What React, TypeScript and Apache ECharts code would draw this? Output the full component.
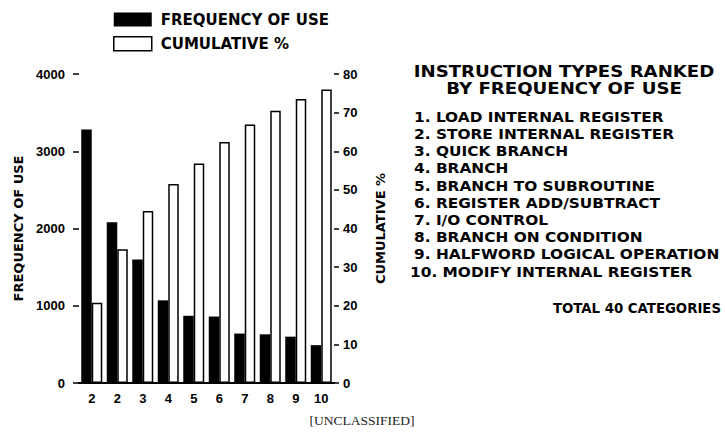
import React, { useEffect, useRef } from "react";
import * as echarts from "echarts";

const categories = ["2", "2", "3", "4", "5", "6", "7", "8", "9", "10"];
const frequency = [3280, 2080, 1600, 1070, 870, 860, 640, 630, 600, 490];
const cumulative = [20.8, 34.6, 44.5, 51.5, 56.8, 62.4, 66.9, 70.5, 73.5, 76.0];
const rankedTypes = [
  "1. LOAD INTERNAL REGISTER",
  "2. STORE INTERNAL REGISTER",
  "3. QUICK BRANCH",
  "4. BRANCH",
  "5. BRANCH TO SUBROUTINE",
  "6. REGISTER ADD/SUBTRACT",
  "7. I/O CONTROL",
  "8. BRANCH ON CONDITION",
  "9. HALFWORD LOGICAL OPERATION",
  "10. MODIFY INTERNAL REGISTER",
];
const titleLines = ["INSTRUCTION TYPES RANKED", "BY FREQUENCY OF USE"];

const FONT = '"DejaVu Sans", sans-serif';
const NUM_FONT = '"Liberation Sans", Arial, sans-serif';

export default function App() {
  const ref = useRef<HTMLDivElement>(null);
  useEffect(() => {
    if (!ref.current) return;
    const chart = echarts.init(ref.current, null, { renderer: "svg" });
    const graphics: any[] = [];
    titleLines.forEach((t, i) => {
      graphics.push({
        type: "text",
        x: 564,
        y: 71 + i * 17.5,
        scaleX: 1.1,
        style: {
          text: t,
          font: `bold 16.5px ${FONT}`,
          fill: "#000",
          align: "center",
          verticalAlign: "middle",
        },
      });
    });
    rankedTypes.forEach((t, i) => {
      graphics.push({
        type: "text",
        x: i === 9 ? 410 : 414,
        y: 117 + i * 17.2,
        scaleX: 1.06,
        style: {
          text: t,
          font: `bold 14.5px ${FONT}`,
          fill: "#000",
          align: "left",
          verticalAlign: "middle",
        },
      });
    });
    graphics.push({
      type: "text",
      x: 721,
      y: 308,
      scaleX: 0.95,
      style: {
        text: "TOTAL 40 CATEGORIES",
        font: `bold 14px ${FONT}`,
        fill: "#000",
        align: "right",
        verticalAlign: "middle",
      },
    });
    graphics.push({
      type: "text",
      x: 362,
      y: 420,
      style: {
        text: "[UNCLASSIFIED]",
        font: `13.5px "Liberation Serif", serif`,
        fill: "#222",
        align: "center",
        verticalAlign: "middle",
      },
    });

    chart.setOption({
      animation: false,
      backgroundColor: "#fff",
      grid: { left: 79, right: 391, top: 74, bottom: 57, containLabel: false },
      legend: {
        orient: "vertical",
        left: 108,
        top: 7,
        itemWidth: 38,
        itemHeight: 14,
        itemGap: 9,
        textStyle: {
          fontFamily: FONT,
          fontWeight: "bold",
          fontSize: 15,
          color: "#000",
          padding: [0, 0, 0, 4],
        },
        data: [
          { name: "FREQUENCY OF USE", icon: "rect", itemStyle: { color: "#000" } },
          {
            name: "CUMULATIVE %",
            icon: "rect",
            itemStyle: { color: "#fff", borderColor: "#000", borderWidth: 1.5 },
          },
        ],
      },
      xAxis: {
        type: "category",
        data: categories,
        axisLine: { show: true, lineStyle: { color: "#000", width: 2 } },
        axisTick: { show: false },
        axisLabel: {
          margin: 9,
          fontFamily: NUM_FONT,
          fontWeight: "bold",
          fontSize: 13,
          color: "#000",
        },
      },
      yAxis: [
        {
          type: "value",
          min: 0,
          max: 4000,
          interval: 1000,
          name: "FREQUENCY OF USE",
          nameLocation: "middle",
          nameGap: 54,
          nameRotate: 90,
          nameTextStyle: { fontFamily: FONT, fontWeight: "bold", fontSize: 13, color: "#000" },
          axisLine: { show: false },
          axisTick: { show: true, length: 6, lineStyle: { color: "#000", width: 1.5 } },
          splitLine: { show: false },
          axisLabel: {
            margin: 14,
            formatter: (v: number) => String(v),
            fontFamily: NUM_FONT,
            fontWeight: "bold",
            fontSize: 13,
            color: "#000",
          },
        },
        {
          type: "value",
          min: 0,
          max: 80,
          interval: 10,
          position: "right",
          name: "CUMULATIVE %",
          nameLocation: "middle",
          nameGap: 40,
          nameRotate: 90,
          nameTextStyle: { fontFamily: FONT, fontWeight: "bold", fontSize: 13, color: "#000" },
          axisLine: { show: false },
          axisTick: { show: true, length: 5, lineStyle: { color: "#000", width: 1.5 } },
          splitLine: { show: false },
          axisLabel: {
            margin: 9,
            formatter: (v: number) => String(v),
            fontFamily: NUM_FONT,
            fontWeight: "bold",
            fontSize: 13,
            color: "#000",
          },
        },
      ],
      series: [
        {
          name: "FREQUENCY OF USE",
          type: "bar",
          yAxisIndex: 0,
          data: frequency,
          barWidth: 10.5,
          barGap: "0%",
          itemStyle: { color: "#000" },
        },
        {
          name: "CUMULATIVE %",
          type: "bar",
          yAxisIndex: 1,
          data: cumulative,
          barWidth: 10.5,
          barGap: "0%",
          itemStyle: { color: "#fff", borderColor: "#000", borderWidth: 1.5 },
        },
      ],
      graphic: graphics,
    });
    return () => chart.dispose();
  }, []);
  return (
    <div
      ref={ref}
      style={{ position: "absolute", left: 0, top: 0, width: 725, height: 440 }}
    />
  );
}
